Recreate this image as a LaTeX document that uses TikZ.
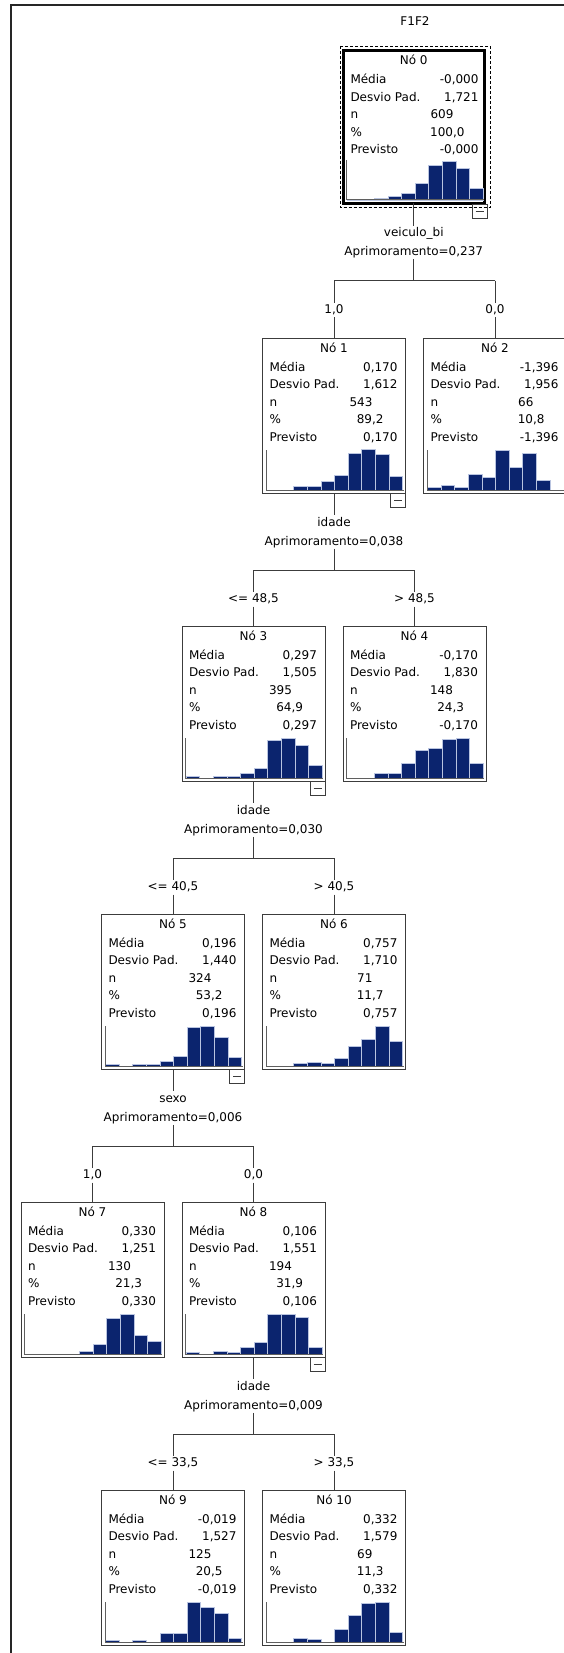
\documentclass[tikz,border=0pt]{standalone}
\usepackage{fontspec}
\setmainfont{DejaVu Sans}
\usetikzlibrary{calc}
\definecolor{navy}{RGB}{11,36,110}
\definecolor{barline}{RGB}{185,196,224}
\definecolor{boxgray}{RGB}{60,60,60}
\definecolor{axisgray}{RGB}{95,95,95}
\definecolor{conngray}{RGB}{60,60,60}

\tikzset{
  lab/.style={inner sep=0pt, outer sep=0pt, font=\fontsize{12}{14}\selectfont},
  varlab/.style={lab, text height=9pt, text depth=2.5pt, inner ysep=2pt},
  aprlab/.style={lab, text height=9pt, text depth=2.5pt, inner ysep=1pt},
  edgelab/.style={lab, text height=9pt, text depth=2.5pt, inner ysep=1.5pt},
  tboxextra/.style={},
  tbox/.style={draw=boxgray, line width=1pt, minimum width=143pt, minimum height=155pt,
    inner sep=0pt, outer sep=0pt, tboxextra},
  bar/.style={fill=navy, draw=barline, line width=0.6pt},
  axisline/.style={draw=axisgray, line width=1pt},
  conn/.style={draw=conngray, line width=1pt},
  frame/.style={draw=black!85, line width=1.3pt},
  minusbox/.style={draw=boxgray, line width=1pt, minimum width=15pt, minimum height=14pt,
    inner sep=0pt, outer sep=0pt,
    path picture={\draw[boxgray, line width=1pt] ($(path picture bounding box.west)+(3.5,0)$) -- ++(8,0);}}
}

% #1 name, #2 L, #3 T, #4 title, #5 media, #6 desvio, #7 n, #8 pct, #9 previsto
\newcommand\TNode[9]{%
  \node[tbox, anchor=north west] (#1) at (#2,#3) {};
  \node[lab, anchor=base] (#1t) at ($(#1.north)+(0,14.4)$) {#4};
  \node[lab, anchor=base west] (#1la) at ($(#1.north west)+(7,33.3)$) {Média};
  \node[lab, anchor=base east] (#1va) at ($(#1.north west)+(135,33.3)$) {#5};
  \node[lab, anchor=base west] (#1lb) at ($(#1.north west)+(7,50.8)$) {Desvio Pad.};
  \node[lab, anchor=base east] (#1vb) at ($(#1.north west)+(135,50.8)$) {#6};
  \node[lab, anchor=base west] (#1lc) at ($(#1.north west)+(7,68.3)$) {n};
  \node[lab, anchor=base east] (#1vc) at ($(#1.north west)+(110,68.3)$) {#7};
  \node[lab, anchor=base west] (#1ld) at ($(#1.north west)+(7,85.6)$) {\%};
  \node[lab, anchor=base east] (#1vd) at ($(#1.north west)+(121,85.6)$) {#8};
  \node[lab, anchor=base west] (#1le) at ($(#1.north west)+(7,103)$) {Previsto};
  \node[lab, anchor=base east] (#1ve) at ($(#1.north west)+(135,103)$) {#9};
}

% #1 L, #2 baseline y, #3 heights
\newcommand\THist[3]{%
  \foreach \h [count=\k] in {#3} {
    \ifdim\h pt>0pt
      \path[bar] ({#1+4+13.6*(\k-1)},#2) rectangle ++(13.6,-\h);
    \fi
  }
  \draw[axisline] (#1+3.5,#2-40) -- (#1+3.5,#2) -- (#1+141,#2);
}

% #1 parent, #2 var, #3 apr, #4 left child, #5 right child, #6 left label, #7 right label, #8 id
\newcommand\TSplit[8]{%
  \node[varlab, anchor=base] (#8v) at ($(#1.south)+(0,33.3)$) {#2};
  \node[aprlab, anchor=base] (#8a) at ($(#1.south)+(0,52.3)$) {Aprimoramento=#3};
  \coordinate (#8j) at ($(#1.south)+(0,77)$);
  \coordinate (#8ja) at (#8j -| #4.north);
  \coordinate (#8jb) at (#8j -| #5.north);
  \node[edgelab, anchor=base] (#8ea) at ($(#8ja)+(0,32.6)$) {#6};
  \node[edgelab, anchor=base] (#8eb) at ($(#8jb)+(0,32.6)$) {#7};
  \draw[conn] (#1.south) -- (#8v.north);
  \draw[conn] (#8a.south) -- (#8j);
  \draw[conn] (#8ja) -- (#8jb);
  \draw[conn] (#8ja) -- (#8ea.north);
  \draw[conn] (#8ea.south) -- (#4.north);
  \draw[conn] (#8jb) -- (#8eb.north);
  \draw[conn] (#8eb.south) -- (#5.north);
}

\begin{document}
\begin{tikzpicture}[x=1pt, y=-1pt]
\useasboundingbox (0,0) rectangle (564,1653);
\fill[white] (0,0) rectangle (564,1653);
\draw[frame] (11,1653) -- (11,5) -- (564,5);

\node[lab, anchor=base] (title) at (415,25.3) {F1F2};

% Node 0 (selected)
\begin{scope}[tboxextra/.style={draw=black, line width=3pt, minimum width=140.5pt, minimum height=153pt}]
\TNode{n0}{343.5}{50.5}{Nó 0}{-0,000}{1,721}{609}{100,0}{-0,000}
\end{scope}
\draw[black, line width=0.9pt, dash pattern=on 3pt off 2pt] (340,46) rectangle (490,207.5);
\THist{343}{200}{1,1,2,3.3,7,16.7,34.3,39,31.7,11.7}
\node[minusbox, anchor=north east] (m0) at ($(n0.south east)+(3,1)$) {};

% Level 1
\TNode{n1}{262.5}{338}{Nó 1}{0,170}{1,612}{543}{89,2}{0,170}
\THist{262.5}{490}{0,0,3.3,3.3,8.3,15,36.7,40.3,35.3,13.7}
\node[minusbox, anchor=north east] (m1) at (n1.south east) {};
\TNode{n2}{423.5}{338}{Nó 2}{-1,396}{1,956}{66}{10,8}{-1,396}
\THist{423.5}{490}{2.5,5,2.5,15.5,13,39.5,23,37,9.5,0}

% Level 2
\TNode{n3}{182}{626}{Nó 3}{0,297}{1,505}{395}{64,9}{0,297}
\THist{182}{778}{1.7,0,1.7,1.7,5,10,37.3,40,32.3,12.3}
\node[minusbox, anchor=north east] (m3) at (n3.south east) {};
\TNode{n4}{343}{626}{Nó 4}{-0,170}{1,830}{148}{24,3}{-0,170}
\THist{343}{778}{0,0,5,5,14.7,28,30,38.3,40,14.7}

% Level 3
\TNode{n5}{101.5}{914}{Nó 5}{0,196}{1,440}{324}{53,2}{0,196}
\THist{101.5}{1066}{1.7,0,1.7,1.7,5,9.7,38.3,39.3,29,8.3}
\node[minusbox, anchor=north east] (m5) at (n5.south east) {};
\TNode{n6}{262.5}{914}{Nó 6}{0,757}{1,710}{71}{11,7}{0,757}
\THist{262.5}{1066}{0,0,2.3,3.7,2.3,7.3,19.3,26.7,39.3,24.3}

% Level 4
\TNode{n7}{21}{1202}{Nó 7}{0,330}{1,251}{130}{21,3}{0,330}
\THist{21}{1354}{0,0,0,0,2.7,9.7,36,40,18.3,12.3}
\TNode{n8}{182}{1202}{Nó 8}{0,106}{1,551}{194}{31,9}{0,106}
\THist{182}{1354}{1.7,0,3,2,6.3,11.3,40,40,36.3,6.3}
\node[minusbox, anchor=north east] (m8) at (n8.south east) {};

% Level 5
\TNode{n9}{101.5}{1490}{Nó 9}{-0,019}{1,527}{125}{20,5}{-0,019}
\THist{101.5}{1642}{1.7,0,1.7,0,9,9,40,35,29,4}
\TNode{n10}{262.5}{1490}{Nó 10}{0,332}{1,579}{69}{11,3}{0,332}
\THist{262.5}{1642}{0,0,4,3,0,12.3,26.7,38.3,39.7,10}

% Splits
\TSplit{n0}{veiculo\_bi}{0,237}{n1}{n2}{1,0}{0,0}{sa}
\TSplit{n1}{idade}{0,038}{n3}{n4}{<= 48,5}{> 48,5}{sb}
\TSplit{n3}{idade}{0,030}{n5}{n6}{<= 40,5}{> 40,5}{sc}
\TSplit{n5}{sexo}{0,006}{n7}{n8}{1,0}{0,0}{sd}
\TSplit{n8}{idade}{0,009}{n9}{n10}{<= 33,5}{> 33,5}{se}
\end{tikzpicture}
\end{document}
